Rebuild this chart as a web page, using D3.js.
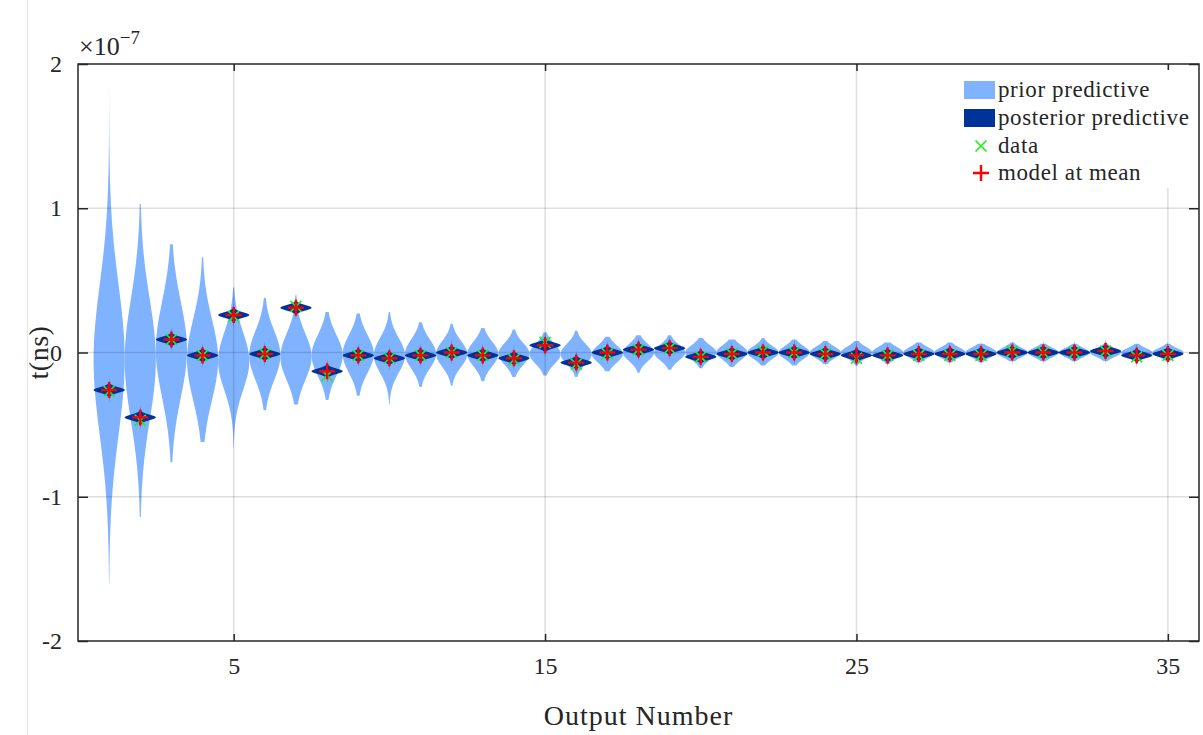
<!DOCTYPE html>
<html>
<head>
<meta charset="utf-8">
<script src="https://cdn.jsdelivr.net/npm/d3@7"></script>
<style>
  html, body { margin: 0; padding: 0; background: #fff; }
  svg { display: block; }
  text { font-family: "Liberation Serif", "DejaVu Serif", serif; fill: #262626; }
</style>
</head>
<body>
<svg id="chart" width="1203" height="735"></svg>
<script>
// Output numbers (x categories)
const outputs = d3.range(1, 36);

// Prior predictive violins, values in units of 1e-7
const priorCenter = [-0.05, -0.05, 0.02, -0.05, -0.06, -0.02, -0.03, -0.02, -0.01, -0.02,
                     -0.01, -0.01, -0.01, -0.01, -0.01, -0.01, -0.01, 0.00, 0.00, 0.00,
                      0.00, 0.00, 0.00, 0.00, 0.00, 0.00, 0.00, 0.00, 0.00, 0.00,
                      0.00, 0.00, 0.00, 0.00, 0.00];
const priorSpread = [0.52, 0.42, 0.33, 0.28, 0.20, 0.17, 0.16, 0.14, 0.13, 0.12,
                     0.10, 0.09, 0.085, 0.075, 0.07, 0.07, 0.06, 0.06, 0.055, 0.05,
                     0.05, 0.045, 0.045, 0.04, 0.04, 0.038, 0.036, 0.035, 0.034, 0.033,
                     0.032, 0.031, 0.030, 0.030, 0.030];
const priorTop = [1.83, 1.03, 0.75, 0.66, 0.45, 0.38, 0.40, 0.28, 0.27, 0.28,
                  0.21, 0.20, 0.17, 0.16, 0.14, 0.15, 0.11, 0.12, 0.12, 0.10,
                  0.09, 0.10, 0.09, 0.08, 0.08, 0.07, 0.07, 0.07, 0.06, 0.07,
                  0.06, 0.06, 0.07, 0.06, 0.06];
const priorBottom = [-1.60, -1.14, -0.76, -0.62, -0.66, -0.40, -0.36, -0.33, -0.30, -0.36,
                     -0.24, -0.23, -0.20, -0.17, -0.16, -0.17, -0.13, -0.14, -0.12, -0.11,
                     -0.10, -0.09, -0.09, -0.08, -0.09, -0.08, -0.07, -0.07, -0.07, -0.06,
                     -0.06, -0.06, -0.06, -0.07, -0.06];

// Model evaluated at the posterior mean (centre of the posterior predictive)
const modelMean = [-0.26, -0.45, 0.09, -0.02, 0.26, -0.01, 0.31, -0.13, -0.02, -0.04,
                   -0.02, 0.00, -0.02, -0.04, 0.05, -0.07, 0.00, 0.02, 0.03, -0.03,
                   -0.01, 0.00, 0.00, -0.01, -0.02, -0.02, -0.01, -0.01, -0.01, 0.00,
                    0.00, 0.00, 0.01, -0.02, -0.01];
const posteriorSpread = 0.019;
const posteriorTail = 0.085;

// Observed data
const dataValue = [-0.27, -0.47, 0.09, -0.02, 0.25, -0.01, 0.32, -0.16, -0.02, -0.04,
                   -0.02, 0.00, -0.02, -0.05, 0.07, -0.08, -0.01, 0.02, 0.03, -0.03,
                   -0.01, 0.01, 0.00, -0.01, -0.04, -0.02, -0.02, -0.02, -0.02, 0.01,
                    0.00, 0.00, 0.01, -0.03, -0.02];

// Axis ticks
const xTicks = [5, 15, 25, 35];
const yTicks = [-2, -1, 0, 1, 2];
const yGrid = [-1, 0, 1];

const legendItems = ["prior predictive", "posterior predictive", "data", "model at mean"];

const colors = { prior: "#80b3ff", posterior: "#003399", data: "#22ee22", model: "#ff0000", axis: "#262626" };

const svg = d3.select("#chart");
const plot = { left: 78, right: 1199, top: 64, bottom: 641 };

const x = d3.scaleLinear().domain([0, 36]).range([plot.left, plot.right]);
const y = d3.scaleLinear().domain([-2, 2]).range([plot.bottom, plot.top]);

// left margin rule
svg.append("line").attr("x1", 27.5).attr("x2", 27.5).attr("y1", 0).attr("y2", 735)
  .attr("stroke", "#e6e6e6").attr("stroke-width", 1);

const halfWidth = 0.5; // max half-width of a violin, in x units

// Build a violin outline from a centre, spread and tail extents
function violinProfile(c, s, top, bottom, tailLevel) {
  const pts = [];
  const n = 240;
  for (let k = 0; k <= n; k++) {
    const v = bottom + (top - bottom) * k / n;
    const d = v - c;
    const gauss = Math.exp(-0.5 * (d / s) * (d / s));
    const reach = d >= 0 ? (top - c) : (c - bottom);
    const tail = reach > 0 ? tailLevel * Math.max(0, 1 - Math.abs(d) / reach) : 0;
    pts.push({ v, w: Math.max(gauss, tail) });
  }
  return pts;
}

svg.append("clipPath").attr("id", "plotclip")
  .append("rect").attr("x", plot.left).attr("y", plot.top)
  .attr("width", plot.right - plot.left).attr("height", plot.bottom - plot.top);

const g = svg.append("g").attr("clip-path", "url(#plotclip)");

const violinArea = o => d3.area()
  .y(p => y(p.v))
  .x0(p => x(o - halfWidth * p.w))
  .x1(p => x(o + halfWidth * p.w));

// Prior predictive violins
outputs.forEach((o, i) => {
  const prof = violinProfile(priorCenter[i], priorSpread[i], priorTop[i], priorBottom[i], 0.04);
  g.append("path").attr("d", violinArea(o)(prof)).attr("fill", colors.prior);
});

// Posterior predictive violins
outputs.forEach((o, i) => {
  const c = modelMean[i];
  const prof = violinProfile(c, posteriorSpread, c + posteriorTail, c - posteriorTail, 0.035);
  g.append("path").attr("d", violinArea(o)(prof)).attr("fill", colors.posterior);
});

// Grid lines drawn over the violins
const grid = svg.append("g").attr("stroke", "#000").attr("stroke-opacity", 0.13).attr("stroke-width", 1.5);
xTicks.forEach(t => grid.append("line").attr("x1", x(t)).attr("x2", x(t)).attr("y1", plot.top).attr("y2", plot.bottom));
yGrid.forEach(t => grid.append("line").attr("x1", plot.left).attr("x2", plot.right).attr("y1", y(t)).attr("y2", y(t)));

// Data markers (x)
const dm = 5.5;
const crossPath = (cx, cy) => `M${cx - dm},${cy - dm}L${cx + dm},${cy + dm}M${cx - dm},${cy + dm}L${cx + dm},${cy - dm}`;
outputs.forEach((o, i) => {
  svg.append("path").attr("d", crossPath(x(o), y(dataValue[i])))
    .attr("stroke", colors.data).attr("stroke-width", 1.7).attr("fill", "none");
});

// Model-at-mean markers (+)
const mm = 8;
const plusPath = (cx, cy) => `M${cx - mm},${cy}L${cx + mm},${cy}M${cx},${cy - mm}L${cx},${cy + mm}`;
outputs.forEach((o, i) => {
  svg.append("path").attr("d", plusPath(x(o), y(modelMean[i])))
    .attr("stroke", colors.model).attr("stroke-width", 2.4).attr("fill", "none");
});

// Axes box and ticks
const axisG = svg.append("g");
axisG.append("rect").attr("x", plot.left).attr("y", plot.top)
  .attr("width", plot.right - plot.left).attr("height", plot.bottom - plot.top)
  .attr("fill", "none").attr("stroke", colors.axis).attr("stroke-width", 1.5);

const bottomAxis = d3.axisBottom(x).tickValues(xTicks).tickSize(-7).tickPadding(16).tickFormat(d3.format("d"));
const topAxis = d3.axisTop(x).tickValues(xTicks).tickSize(-7).tickFormat("");
const leftAxis = d3.axisLeft(y).tickValues(yTicks).tickSize(-10).tickPadding(16).tickFormat(d => d < 0 ? "-" + Math.abs(d) : String(d));
const rightAxis = d3.axisRight(y).tickValues(yTicks).tickSize(-10).tickFormat("");

function styleAxis(sel) {
  sel.select(".domain").remove();
  sel.selectAll(".tick line").attr("stroke", colors.axis).attr("stroke-width", 1.5);
  sel.selectAll(".tick text").attr("fill", colors.axis)
    .style("font-family", '"Liberation Serif", serif').style("font-size", "24px");
}
axisG.append("g").attr("transform", `translate(0,${plot.bottom})`).call(bottomAxis).call(styleAxis);
axisG.append("g").attr("transform", `translate(0,${plot.top})`).call(topAxis).call(styleAxis);
axisG.append("g").attr("transform", `translate(${plot.left},0)`).call(leftAxis).call(styleAxis);
axisG.append("g").attr("transform", `translate(${plot.right},0)`).call(rightAxis).call(styleAxis);

// Exponent label
const expo = svg.append("text").attr("x", 79).attr("y", 55).style("font-size", "26px");
expo.append("tspan").text("×10");
expo.append("tspan").attr("dy", -11).style("font-size", "19px").text("−7");

// Axis titles
svg.append("text").attr("x", x(18)).attr("y", 725).attr("text-anchor", "middle")
  .style("font-size", "28px").style("letter-spacing", "1px").text("Output Number");
svg.append("text").attr("transform", `translate(48,${y(0)}) rotate(-90)`).attr("text-anchor", "middle")
  .style("font-size", "28px").style("letter-spacing", "0.5px").text("t(ns)");

// Legend
const leg = svg.append("g");
leg.append("rect").attr("x", 950).attr("y", 70).attr("width", 246).attr("height", 118).attr("fill", "#fff");
const rowY = [90, 118, 146, 173];
leg.append("rect").attr("x", 964).attr("y", rowY[0] - 9).attr("width", 31).attr("height", 18).attr("fill", colors.prior);
leg.append("rect").attr("x", 964).attr("y", rowY[1] - 9).attr("width", 31).attr("height", 18).attr("fill", colors.posterior);
leg.append("path").attr("d", crossPath(981, rowY[2])).attr("stroke", colors.data).attr("stroke-width", 1.7);
leg.append("path").attr("d", plusPath(981, rowY[3])).attr("stroke", colors.model).attr("stroke-width", 2.4);
legendItems.forEach((t, i) => {
  leg.append("text").attr("x", 998).attr("y", rowY[i] + 7).style("font-size", "23px")
    .style("letter-spacing", "0.6px").text(t);
});
</script>
</body>
</html>
